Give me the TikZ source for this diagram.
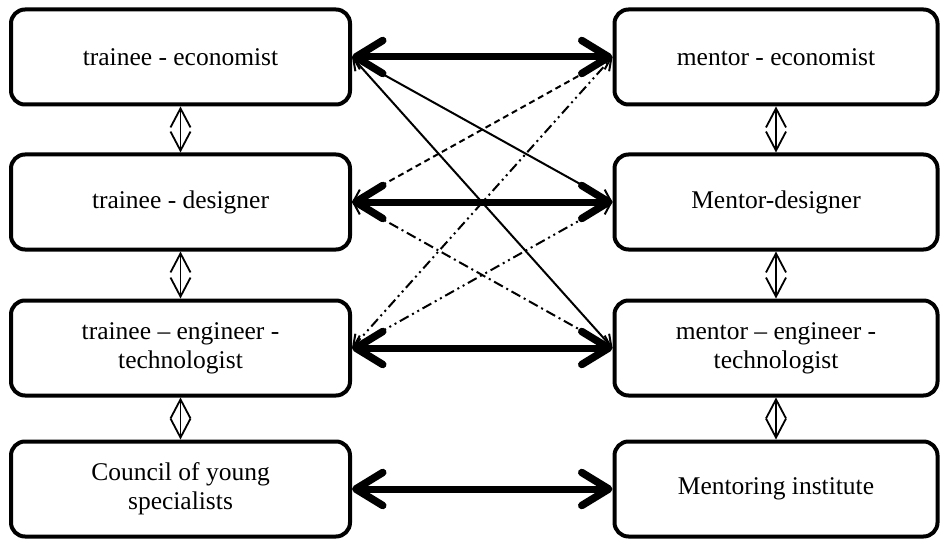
\documentclass[tikz,border=0pt]{standalone}
\usepackage{fontspec}
\setmainfont{Liberation Serif}
\usetikzlibrary{arrows.meta}
\begin{document}
\begin{tikzpicture}[x=1pt,y=-1pt,
  box/.style={draw, line width=4pt, rounded corners=14pt, minimum height=95pt,
    align=center, inner sep=0pt, font=\fontsize{25.5}{29}\selectfont},
  lbox/.style={box, minimum width=339pt},
  rbox/.style={box, minimum width=323pt},
  thick link/.style={line width=7pt,
    {Straight Barb[length=27pt,width=33pt,round,line width=7.5pt]}-{Straight Barb[length=27pt,width=33pt,round,line width=7.5pt]}},
  thin link/.style={line width=2pt,
    {Straight Barb[length=11pt,width=14pt]}-{Straight Barb[length=11pt,width=14pt]}},
  vlink/.style={line width=1.8pt,
    {Straight Barb[length=19pt,width=20pt]}-{Straight Barb[length=19pt,width=20pt]}},
  shortdash/.style={dash pattern=on 6pt off 4pt},
  dashdot/.style={dash pattern=on 10pt off 4pt on 2pt off 4pt},
  dashdotdot/.style={dash pattern=on 10pt off 4pt on 2pt off 4pt on 2pt off 4pt}]
\useasboundingbox (0,0) rectangle (941,540);

\node[lbox] (l1) at (180.5,57) {trainee - economist};
\node[lbox] (l2) at (180.5,202) {trainee - designer};
\node[lbox] (l3) at (180.5,348) {trainee -- engineer -\\technologist};
\node[lbox] (l4) at (180.5,489) {Council of young\\specialists};

\node[rbox] (r1) at (776,57) {mentor - economist};
\node[rbox] (r2) at (776,202) {Mentor-designer};
\node[rbox] (r3) at (776,348) {mentor -- engineer -\\technologist};
\node[rbox] (r4) at (776,489) {Mentoring institute};

\draw[vlink] (l1.south) -- (l2.north);
\draw[vlink] (l2.south) -- (l3.north);
\draw[vlink] (l3.south) -- (l4.north);
\draw[vlink] (r1.south) -- (r2.north);
\draw[vlink] (r2.south) -- (r3.north);
\draw[vlink] (r3.south) -- (r4.north);

\draw[thin link] (l1.east) -- (r2.west);
\draw[thin link] (l1.east) -- (r3.west);
\draw[thin link, shortdash] (l2.east) -- (r1.west);
\draw[thin link, dashdot] (l2.east) -- (r3.west);
\draw[thin link, dashdotdot] (l3.east) -- (r1.west);
\draw[thin link, dashdotdot] (l3.east) -- (r2.west);

\draw[thick link] (l1.east) -- (r1.west);
\draw[thick link] (l2.east) -- (r2.west);
\draw[thick link] (l3.east) -- (r3.west);
\draw[thick link] (l4.east) -- (r4.west);
\end{tikzpicture}
\end{document}
